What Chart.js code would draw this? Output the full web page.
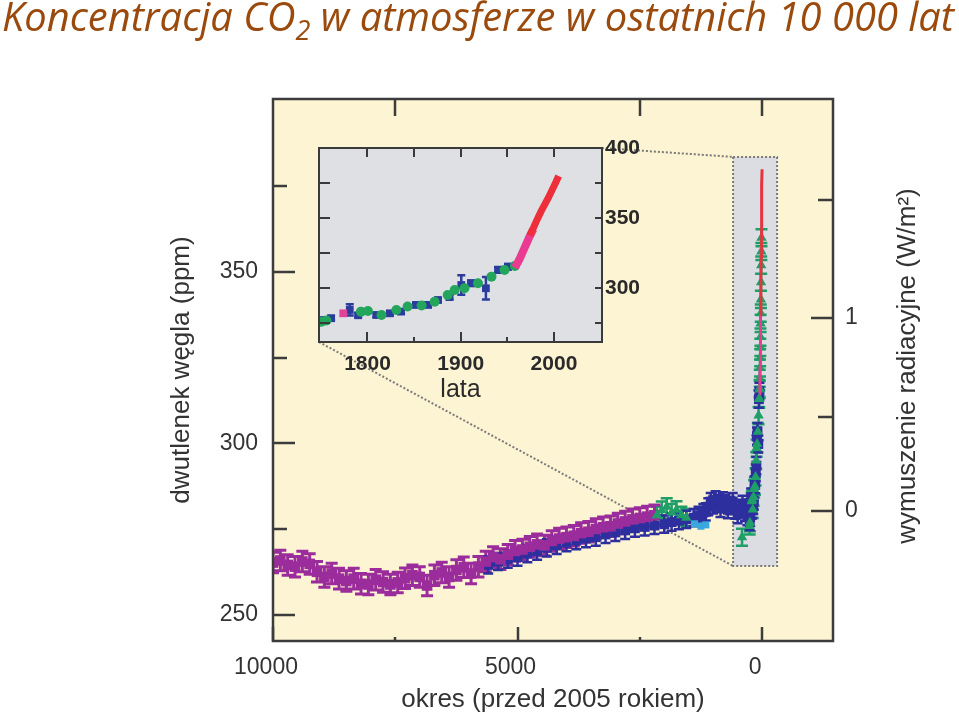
<!DOCTYPE html>
<html lang="pl">
<head>
<meta charset="utf-8">
<title>Koncentracja CO2 w atmosferze</title>
<script src="https://cdn.jsdelivr.net/npm/chart.js@4.4.1/dist/chart.umd.min.js"></script>
<style>
  html, body { margin: 0; padding: 0; background: #fff; }
  #wrap { position: relative; width: 959px; height: 718px; overflow: hidden; }
  #title {
    position: absolute; left: 2px; top: -4px; z-index: 3;
    font-family: "Open Sans", "Noto Sans", sans-serif; font-style: italic;
    font-size: 40px; line-height: 40px; color: #9a4a0c; white-space: nowrap;
    transform-origin: left top;
  }
  #title .sub { font-size: 0.68em; position: relative; top: 0.32em; }
  #mainChart { position: absolute; left: 0; top: 0; z-index: 1; }
  #insetChart { position: absolute; left: 300px; top: 120px; z-index: 2; }
</style>
</head>
<body>
<div id="wrap">
  <div id="title">Koncentracja CO<span class="sub">2</span> w atmosferze w ostatnich 10 000 lat</div>
  <canvas id="mainChart" width="959" height="718"></canvas>
  <canvas id="insetChart" width="360" height="290"></canvas>
</div>
<script>
// ---- dane: wykres główny (lata przed 2005 r., ppm) ----
const purpleYears = [10000, 9850, 9700, 9550, 9400, 9250, 9100, 8950, 8800, 8650, 8500, 8350, 8200, 8050, 7900, 7750, 7600, 7450, 7300, 7150, 7000, 6850, 6700, 6550, 6400, 6250, 6100, 5950, 5800, 5650, 5500, 5350, 5200, 5050, 4900, 4750, 4600, 4450, 4300, 4150, 4000, 3850, 3700, 3550, 3400, 3250, 3100, 2950, 2800, 2650, 2500, 2350, 2200];
const purpleCO2 = [265.2, 265.8, 264.5, 264.0, 265.5, 264.8, 262.5, 261.0, 262.0, 260.5, 259.8, 260.5, 259.0, 258.8, 260.2, 259.5, 258.8, 259.4, 260.6, 261.5, 261.0, 258.5, 261.5, 262.3, 261.0, 263.0, 263.8, 262.0, 264.0, 265.5, 266.8, 266.2, 267.5, 268.6, 269.0, 269.8, 270.5, 270.2, 271.5, 272.2, 272.6, 273.0, 273.8, 274.2, 275.0, 275.5, 275.8, 276.6, 277.2, 277.8, 278.2, 278.6, 279.0];

const blueYears = [5600, 5400, 5200, 5000, 4800, 4600, 4400, 4200, 4000, 3800, 3600, 3400, 3200, 3000, 2800, 2600, 2400, 2200, 2000, 1850, 1700, 1550, 1400, 1300, 1200, 1150, 1100, 1050, 1000, 950, 900, 850, 800, 750, 700, 650, 600, 550, 500, 450, 400, 350, 300, 260];
const blueCO2 = [264.5, 265.5, 266.2, 266.8, 267.8, 268.5, 269.5, 270.2, 271.0, 271.6, 272.2, 272.6, 273.4, 274.0, 274.6, 275.2, 275.6, 276.0, 276.4, 277.0, 277.4, 277.8, 278.3, 279.0, 279.8, 280.0, 281.5, 283.0, 282.0, 283.5, 282.5, 281.0, 283.2, 282.4, 280.6, 281.8, 283.0, 280.5, 279.2, 281.0, 282.2, 279.8, 278.6, 281.2];

const greenYears = [2150, 2050, 1950, 1850, 1750, 1650, 1550, 410, 58, 52, 47, 43, 39, 36, 33, 30, 27, 24, 21, 18, 15, 12];
const greenCO2 = [279.0, 280.5, 281.5, 279.8, 280.6, 279.0, 278.3, 272.6, 313, 316, 319, 322, 325, 328, 331, 335, 338, 342, 347, 352, 356, 360];

const cyanYears = [1380, 1250, 1150];
const cyanCO2 = [276.5, 275.8, 276.2];

// ---- dane: wstawka (rok kalendarzowy, ppm) ----
const insetBlueYears = [1752, 1761, 1781, 1790, 1809.5, 1824, 1836, 1852, 1865, 1875.6, 1888, 1900.6, 1911, 1927, 1940, 1950.7];
const insetBlueCO2 = [277.1, 278.4, 284.3, 280.5, 280.7, 281.9, 283.1, 287.9, 287.9, 291.4, 293.5, 302.1, 303.4, 299.8, 312.9, 315.2];
const insetBlueErr = [1.5, 1.5, 4, 1.5, 1.5, 1.5, 1.5, 1.5, 1.5, 1.5, 1.5, 7, 2, 8, 2, 2];

const insetGreenYears = [1750.5, 1756, 1793, 1800.5, 1815, 1831, 1843, 1858, 1872, 1886, 1893.5, 1904, 1918.5, 1933, 1947, 1958];
const insetGreenCO2 = [275.9, 276.8, 283.1, 283.6, 280.7, 284.3, 286.7, 287.5, 290.2, 295.0, 298.6, 299.8, 303.4, 308.1, 312.9, 315.7];

const magentaDotYears = [1774];
const magentaDotCO2 = [281.9];

const magentaYears = [1958, 1961, 1964, 1967, 1970, 1973, 1976, 1978];
const magentaCO2 = [314.5, 318.0, 322.0, 326.5, 331.0, 335.5, 339.5, 342.0];

const redYears = [1974, 1978, 1982, 1986, 1990, 1994, 1998, 2002, 2005];
const redCO2 = [337.5, 343.0, 349.0, 354.5, 359.5, 364.5, 370.0, 375.5, 380.0];

// ---- osie ----
const REF_YEAR = 2005;
const ppmMajor = [250, 300, 350];
const ppmMinor = [275, 325, 375];
const forcingPpm = [280.2, 336.6];
const forcingLabels = ['0', '1'];
const forcingMinorPpm = [307.7, 371.0];
const bpMajor = [10000, 5000, 0];
const bpMinor = [7500, 2500];
const bpTop = [7500, 2500, 0];
const insetYearMajor = [1800, 1900, 2000];
const insetYearMinor = [1850, 1950];
const insetPpmMajor = [300, 350, 400];
const insetPpmMinor = [275, 325, 375];

// zaznaczony fragment (lata przed 2005, ppm)
const boxBP = [593, -307];
const boxCO2 = [264.2, 383.6];

Chart.defaults.font.family = "'Liberation Sans', Arial, sans-serif";
Chart.defaults.color = '#333';

// dopasowanie tytułu do szerokości
const titleEl = document.getElementById('title');
const titleW = titleEl.getBoundingClientRect().width;
titleEl.style.transform = 'scaleX(' + (952 / titleW) + ')';

const pts = (xs, ys, f) => xs.map((x, i) => ({ x: f ? f(x) : x, y: ys[i] }));
const toBP = yr => REF_YEAR - yr;
const plain = v => String(v);

// słupki błędów
const errorBarPlugin = {
    id: 'errorBars',
    beforeDatasetsDraw(chart) {
        const ctx = chart.ctx;
        const a = chart.chartArea;
        const ys = chart.scales.y;
        ctx.save();
        ctx.beginPath();
        ctx.rect(a.left, a.top, a.right - a.left, a.bottom - a.top);
        ctx.clip();
        chart.data.datasets.forEach((ds, i) => {
            if (!ds.errors) return;
            const meta = chart.getDatasetMeta(i);
            ctx.strokeStyle = ds.backgroundColor;
            ctx.lineWidth = ds.errorWidth || 2;
            const cap = ds.capHalf || 4;
            ctx.beginPath();
            meta.data.forEach((pt, j) => {
                const e = Array.isArray(ds.errors) ? ds.errors[j] : ds.errors;
                if (!e) return;
                const v = ds.data[j].y;
                const y1 = ys.getPixelForValue(v - e);
                const y2 = ys.getPixelForValue(v + e);
                ctx.moveTo(pt.x, y1); ctx.lineTo(pt.x, y2);
                ctx.moveTo(pt.x - cap, y1); ctx.lineTo(pt.x + cap, y1);
                ctx.moveTo(pt.x - cap, y2); ctx.lineTo(pt.x + cap, y2);
            });
            ctx.stroke();
        });
        ctx.restore();
    }
};

function strokeTicks(chart, axisId, values, edge, len) {
    const s = chart.scales[axisId];
    const a = chart.chartArea;
    const ctx = chart.ctx;
    ctx.beginPath();
    values.forEach(v => {
        const p = Math.round(s.getPixelForValue(v));
        if (edge === 'left') { ctx.moveTo(a.left, p); ctx.lineTo(a.left + len, p); }
        if (edge === 'right') { ctx.moveTo(a.right, p); ctx.lineTo(a.right - len, p); }
        if (edge === 'top') { ctx.moveTo(p, a.top); ctx.lineTo(p, a.top + len); }
        if (edge === 'bottom') { ctx.moveTo(p, a.bottom); ctx.lineTo(p, a.bottom - len); }
    });
    ctx.stroke();
}

// ---- wstawka ----
const insetCanvas = document.getElementById('insetChart');
const insetDecor = {
    id: 'insetDecor',
    beforeDraw(chart) {
        const a = chart.chartArea;
        chart.ctx.save();
        chart.ctx.fillStyle = '#dfe0e4';
        chart.ctx.fillRect(a.left, a.top, a.right - a.left, a.bottom - a.top);
        chart.ctx.restore();
    },
    afterDraw(chart) {
        const a = chart.chartArea;
        const ctx = chart.ctx;
        ctx.save();
        ctx.strokeStyle = '#3a3a3a';
        ctx.lineWidth = 2;
        ctx.strokeRect(a.left, a.top, a.right - a.left, a.bottom - a.top);
        strokeTicks(chart, 'x', insetYearMajor.concat(insetYearMinor), 'top', 9);
        strokeTicks(chart, 'x', insetYearMajor, 'bottom', 10);
        strokeTicks(chart, 'x', insetYearMinor, 'bottom', 5);
        strokeTicks(chart, 'y', insetPpmMinor.concat([300, 350]), 'left', 11);
        strokeTicks(chart, 'y', insetPpmMinor.concat([300, 350]), 'right', 7);
        ctx.restore();
    }
};

const insetChart = new Chart(insetCanvas.getContext('2d'), {
    type: 'scatter',
    data: {
        datasets: [
            { data: pts(redYears, redCO2), showLine: true, borderColor: '#ee2f3a', borderWidth: 7, pointRadius: 0, backgroundColor: '#ee2f3a' },
            { data: pts(magentaYears, magentaCO2), showLine: true, borderColor: '#ea3a92', borderWidth: 8, pointRadius: 0, backgroundColor: '#ea3a92' },
            { data: pts(magentaDotYears, magentaDotCO2), pointStyle: 'rect', pointRadius: 5.5, backgroundColor: '#e0449a', borderWidth: 0 },
            { data: pts(insetGreenYears, insetGreenCO2), pointStyle: 'circle', pointRadius: 5, backgroundColor: '#23a65c', borderWidth: 0 },
            { data: pts(insetBlueYears, insetBlueCO2), pointStyle: 'rect', pointRadius: 5.5, backgroundColor: '#2a3c9c', borderWidth: 0,
              errors: insetBlueErr, capHalf: 4, errorWidth: 2.5 }
        ]
    },
    options: {
        responsive: false,
        animation: false,
        events: [],
        layout: { padding: { top: 28, left: 19, right: 0, bottom: 0 } },
        plugins: { legend: { display: false }, tooltip: { enabled: false } },
        scales: {
            x: {
                type: 'linear', position: 'bottom', min: 1748, max: 2051.5,
                afterBuildTicks: s => { s.ticks = insetYearMajor.map(v => ({ value: v })); },
                afterFit: s => { s.height = 68; },
                grid: { display: false, drawTicks: false },
                border: { display: false },
                ticks: { padding: 10, maxRotation: 0, autoSkip: false, color: '#2a2a2a', callback: plain,
                         font: { size: 21, weight: 'bold' } },
                title: { display: true, text: 'lata', color: '#2a2a2a', font: { size: 25 }, padding: { top: 0, bottom: 5 } }
            },
            y: {
                type: 'linear', position: 'right', min: 261.4, max: 400,
                afterBuildTicks: s => { s.ticks = insetPpmMajor.map(v => ({ value: v })); },
                afterFit: s => { s.width = 58; },
                grid: { display: false, drawTicks: false },
                border: { display: false },
                ticks: { padding: 3, color: '#2a2a2a', callback: plain, font: { size: 21, weight: 'bold' } }
            }
        }
    },
    plugins: [insetDecor, errorBarPlugin]
});

// ---- wykres główny ----
const mainDecor = {
    id: 'mainDecor',
    beforeDraw(chart) {
        const a = chart.chartArea;
        const ctx = chart.ctx;
        ctx.save();
        ctx.fillStyle = '#fcf4d3';
        ctx.fillRect(a.left, a.top, a.right - a.left, a.bottom - a.top);
        ctx.restore();
    },
    beforeDatasetsDraw(chart) {
        const ctx = chart.ctx;
        const xs = chart.scales.x, ys = chart.scales.y;
        const bx1 = xs.getPixelForValue(boxBP[0]), bx2 = xs.getPixelForValue(boxBP[1]);
        const by1 = ys.getPixelForValue(boxCO2[1]), by2 = ys.getPixelForValue(boxCO2[0]);
        ctx.save();
        ctx.fillStyle = '#dcdde2';
        ctx.fillRect(bx1, by1, bx2 - bx1, by2 - by1);
        ctx.setLineDash([2, 2]);
        ctx.strokeStyle = '#7a7a7a';
        ctx.lineWidth = 2;
        ctx.strokeRect(bx1, by1, bx2 - bx1, by2 - by1);
        // linie łączące z wstawką
        const ia = insetChart.chartArea;
        const ox = insetCanvas.offsetLeft, oy = insetCanvas.offsetTop;
        ctx.beginPath();
        ctx.moveTo(ox + ia.right, oy + ia.top);
        ctx.lineTo(bx1, by1);
        ctx.moveTo(ox + ia.left, oy + ia.bottom);
        ctx.lineTo(bx1, by2);
        ctx.stroke();
        ctx.restore();
    },
    afterDraw(chart) {
        const a = chart.chartArea;
        const ctx = chart.ctx;
        ctx.save();
        ctx.strokeStyle = '#3c3c3c';
        ctx.lineWidth = 2.5;
        ctx.strokeRect(a.left, a.top, a.right - a.left, a.bottom - a.top);
        strokeTicks(chart, 'y', ppmMajor, 'left', 22);
        strokeTicks(chart, 'y', ppmMinor, 'left', 14);
        strokeTicks(chart, 'yR', forcingPpm, 'right', 22);
        strokeTicks(chart, 'yR', forcingMinorPpm, 'right', 15);
        strokeTicks(chart, 'x', bpTop, 'top', 17);
        strokeTicks(chart, 'x', bpMajor, 'bottom', 14);
        strokeTicks(chart, 'x', bpMinor, 'bottom', 4);
        // tytuł prawej osi (czytany od dołu)
        ctx.fillStyle = '#333';
        ctx.font = "26px 'Liberation Sans', Arial, sans-serif";
        ctx.textAlign = 'center';
        ctx.textBaseline = 'middle';
        ctx.translate(908, (a.top + a.bottom) / 2 - 4);
        ctx.rotate(-Math.PI / 2);
        ctx.fillText('wymuszenie radiacyjne (W/m²)', 0, 0);
        ctx.restore();
    }
};

const mainChart = new Chart(document.getElementById('mainChart').getContext('2d'), {
    type: 'scatter',
    data: {
        datasets: [
            { data: pts(redYears, redCO2, toBP), showLine: true, borderColor: '#e5343e', borderWidth: 3, pointRadius: 0, backgroundColor: '#e5343e' },
            { data: pts(magentaYears, magentaCO2, toBP), showLine: true, borderColor: '#e83c8f', borderWidth: 3, pointRadius: 0, backgroundColor: '#e83c8f' },
            { data: pts(greenYears, greenCO2).concat(pts(insetGreenYears, insetGreenCO2, toBP)),
              pointStyle: 'triangle', pointRadius: 6, backgroundColor: '#1f9e68', borderWidth: 0, errors: 2.5, capHalf: 6, errorWidth: 2.5 },
            { data: pts(cyanYears, cyanCO2), pointStyle: 'rect', pointRadius: 5, backgroundColor: '#3aa8dc', borderWidth: 0 },
            { data: pts(purpleYears, purpleCO2), pointStyle: 'rect', pointRadius: 7.5, backgroundColor: '#9b2c9b', borderWidth: 0, errors: 3, capHalf: 6, errorWidth: 3 },
            { data: pts(blueYears, blueCO2).concat(pts(insetBlueYears, insetBlueCO2, toBP)),
              pointStyle: 'rect', pointRadius: 7, backgroundColor: '#2d2f9f', borderWidth: 0, errors: 2.5, capHalf: 5, errorWidth: 2.5 }
        ]
    },
    options: {
        responsive: false,
        animation: false,
        events: [],
        layout: { padding: { top: 99, left: 0, right: 0, bottom: 0 } },
        plugins: { legend: { display: false }, tooltip: { enabled: false } },
        scales: {
            x: {
                type: 'linear', position: 'bottom', reverse: true, min: -1450, max: 10000,
                afterBuildTicks: s => { s.ticks = bpMajor.map(v => ({ value: v })); },
                afterFit: s => { s.height = 77; },
                grid: { display: false, drawTicks: false },
                border: { display: false },
                ticks: { padding: 13, labelOffset: -7, maxRotation: 0, autoSkip: false, callback: plain, font: { size: 23 } },
                title: { display: true, text: 'okres (przed 2005 rokiem)', font: { size: 26 }, padding: { top: 0, bottom: 3 } }
            },
            y: {
                type: 'linear', position: 'left', min: 242.3, max: 400.5,
                afterBuildTicks: s => { s.ticks = ppmMajor.map(v => ({ value: v })); },
                afterFit: s => { s.width = 273; },
                grid: { display: false, drawTicks: false },
                border: { display: false },
                ticks: { padding: 15, callback: plain, font: { size: 23 } },
                title: { display: true, text: 'dwutlenek węgla (ppm)', font: { size: 26 }, padding: { top: 166, bottom: 0 } }
            },
            yR: {
                type: 'linear', position: 'right', min: 242.3, max: 400.5,
                afterBuildTicks: s => { s.ticks = forcingPpm.map(v => ({ value: v })); },
                afterFit: s => { s.width = 126; },
                grid: { display: false, drawTicks: false },
                border: { display: false },
                ticks: { padding: 12, font: { size: 23 }, callback: (v, i) => forcingLabels[i] }
            }
        }
    },
    plugins: [mainDecor, errorBarPlugin]
});
</script>
</body>
</html>
